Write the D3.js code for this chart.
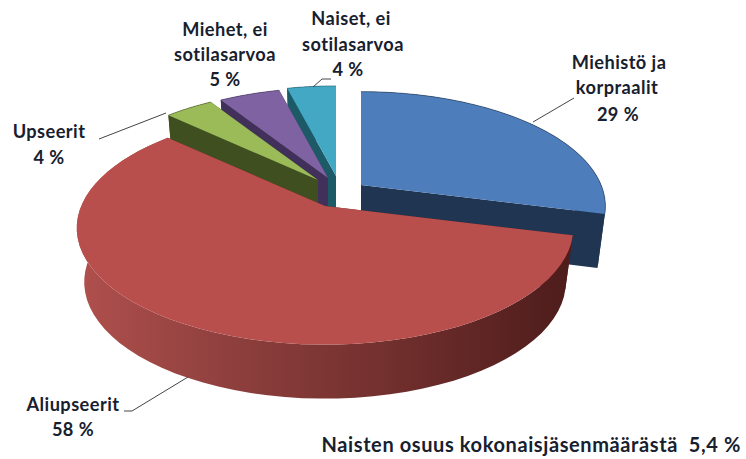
<!DOCTYPE html>
<html><head><meta charset="utf-8">
<script src="https://cdn.jsdelivr.net/npm/d3@7"></script>
<style>html,body{margin:0;background:#fff}svg{display:block}text{font-family:Lato,"Open Sans",sans-serif;font-weight:700;fill:#17202e}</style>
</head><body>
<svg id="c" width="746" height="459"></svg>
<script>
const categories = ["Miehistö ja korpraalit","Aliupseerit","Upseerit","Miehet, ei sotilasarvoa","Naiset, ei sotilasarvoa"];
const shares = [29,58,4,5,4];
const footnote = "Naisten osuus kokonaisjäsenmäärästä  5,4 %";

const topColors = ["#4d7dbb","#b94f4c","#9bbb59","#7f62a1","#42a8c4"];
const wallColors = ["#1f3552","#5a2220","#3f4f20","#41305a","#1d5a68"];
const apexes = [[361,185],[325,206],[318,180],[328,178],[336,176]];
const radii = [.98,.995,.94,.94,.94];
const drawOrder = [4,3,2,0,1];
const R=245,B=113,P=.19,DEPTH=54;

const svg=d3.select("#c");
const defs=svg.append("defs");
const grad=defs.append("linearGradient").attr("id","redWall").attr("gradientUnits","userSpaceOnUse")
  .attr("x1",77).attr("x2",572).attr("y1",0).attr("y2",0);
[[0,"#b0504d"],[.3,"#8f403e"],[.6,"#74312f"],[1,"#4d1c1b"]].forEach(s=>grad.append("stop").attr("offset",s[0]).attr("stop-color",s[1]));

const arcs=d3.pie().sort(null).value(d=>d)(shares);
const line=d3.line();
function pt(i,theta,r,h){
  const u=Math.sin(theta)*r, v=-Math.cos(theta)*r, s=1/(1-P*v);
  const k=h?0.97:1;
  return [apexes[i][0]+R*u*s*k, apexes[i][1]+B*v*s+h];
}
drawOrder.forEach(i=>{
  const a=arcs[i], r=radii[i];
  const ths=d3.range(0,61).map(n=>a.startAngle+(a.endAngle-a.startAngle)*n/60);
  const rimTop=ths.map(t=>pt(i,t,r,0)), rimBot=ths.map(t=>pt(i,t,r,DEPTH));
  const apexT=pt(i,0,0,0), apexB=pt(i,0,0,DEPTH);
  const g=svg.append("g");
  const poly=(pts,fill)=>g.append("path").attr("d",line(pts)+"Z").attr("fill",fill);
  poly([apexT,rimTop[0],rimBot[0],apexB],wallColors[i]);
  poly([apexT,rimTop[60],rimBot[60],apexB],wallColors[i]);
  poly(rimTop.concat(rimBot.slice().reverse()), i===1?"url(#redWall)":wallColors[i]);
  poly([apexT].concat(rimTop),topColors[i]);
  if(i!==1) g.append("path").attr("d",line(rimTop)).attr("fill","none").attr("stroke",wallColors[i]).attr("stroke-width",.8).attr("opacity",.7);
});

const leaders=[
 [[533,122],[574,98]],
 [[99,139],[166,113]],
 [[124,411],[132,411],[188,377]],
 [[313,87],[322,79],[331,79]]
];
leaders.forEach(l=>svg.append("path").attr("d",line(l)).attr("fill","none").attr("stroke","#444").attr("stroke-width",1));

const labels=[
 [["Miehistö ja",619,69],["korpraalit",617,94],["29 %",618,121]],
 [["Aliupseerit",73,411],["58 %",73,436]],
 [["Upseerit",49,138],["4 %",49,164]],
 [["Miehet, ei",225,36],["sotilasarvoa",225,61],["5 %",225,86]],
 [["Naiset, ei",351,25],["sotilasarvoa",353,51],["4 %",348,76]]
];
labels.forEach(ls=>ls.forEach(l=>svg.append("text").attr("x",l[1]).attr("y",l[2]).attr("text-anchor","middle").attr("font-size",18.2).attr("letter-spacing",.45).text(l[0])));
svg.append("text").attr("x",741).attr("y",452).attr("text-anchor","end").attr("font-size",20).attr("letter-spacing",.6).style("white-space","pre").text(footnote);
</script>
</body></html>
